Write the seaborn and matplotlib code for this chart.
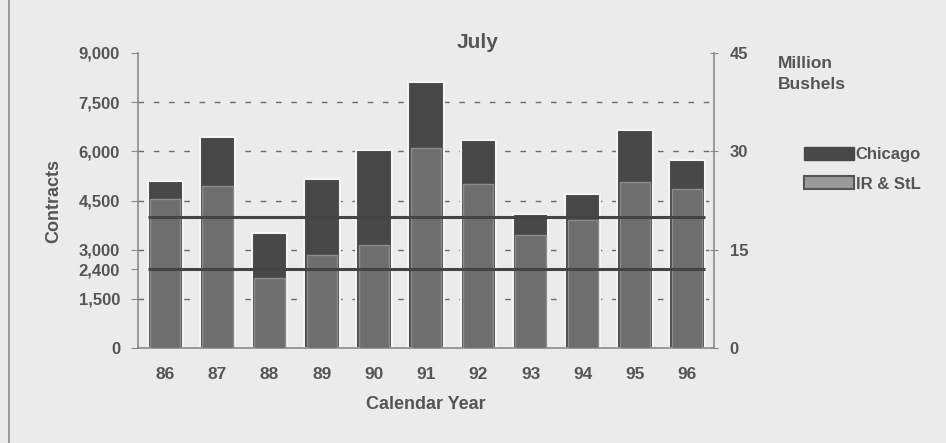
## July contracts chart, Chicago vs IR & StL

import matplotlib
matplotlib.use("Agg")
import matplotlib.pyplot as plt
from matplotlib.lines import Line2D
from matplotlib.patches import Patch
import seaborn as sns
from pandas import DataFrame

#----------------------------------------------------
# DATA
#----------------------------------------------------

years = ["86", "87", "88", "89", "90", "91", "92", "93", "94", "95", "96"]
chicago = [5100, 6450, 3500, 5150, 6050, 8100, 6350, 4100, 4700, 6650, 5750]
ir_stl = [4550, 4950, 2150, 2850, 3150, 6100, 5000, 3450, 3900, 5050, 4850]
ref_levels = [4000, 2400]
left_ticks = [0, 1500, 2400, 3000, 4500, 6000, 7500, 9000]
grid_levels = [1500, 3000, 4500, 6000, 7500]
right_ticks = [0, 15, 30, 45]

#----------------------------------------------------
# STYLE
#----------------------------------------------------

BG = "#ebebeb"
TXT = "#555555"
DARK = "#484848"
MID = "#6e6e6e"

sns.set_style("white")
plt.rcParams["font.family"] = ["Liberation Sans", "DejaVu Sans"]
plt.rcParams["font.weight"] = "bold"

#----------------------------------------------------
# PLOT
#----------------------------------------------------

def main():
    df = DataFrame({"Year": years, "Chicago": chicago, "IR & StL": ir_stl})

    fig = plt.figure(figsize=(9.46, 4.43), dpi=100, facecolor=BG)
    ax = fig.add_axes([0.146, 0.2144, 0.609, 0.666])
    ax.set_facecolor(BG)

    #dashed grid behind the bars
    for lv in grid_levels:
        ax.axhline(lv, color="#6a6a6a", lw=1.0, ls=(0, (4, 7)), zorder=0)

    sns.barplot(data=df, x="Year", y="Chicago", color=DARK, width=0.68,
                saturation=1, edgecolor="#f4f4f4", linewidth=1.5, ax=ax, zorder=2)
    sns.barplot(data=df, x="Year", y="IR & StL", color=MID, width=0.58,
                saturation=1, edgecolor="#8c8c8c", linewidth=1.0, ax=ax, zorder=3)

    #reference lines from first to last bar
    for lv in ref_levels:
        ax.hlines(lv, -0.34, len(years) - 1 + 0.34, color="#444444", lw=2.2, zorder=4)

    ax.set_xlim(-0.52, len(years) - 0.48)
    ax.set_ylim(0, 9000)
    ax.set_yticks(left_ticks)
    ax.set_yticklabels([f"{v:,}" for v in left_ticks])
    ax.set_xticks(range(len(years)))
    ax.set_xticklabels(years)
    ax.set_xticks([i + 0.5 for i in range(len(years) - 1)], minor=True)
    ax.tick_params(axis="x", which="major", length=0, pad=14, labelsize=12.5, labelcolor=TXT)
    ax.tick_params(axis="x", which="minor", length=8, direction="inout", color="#777777")
    ax.tick_params(axis="y", length=5, direction="out", color="#888888", labelsize=12,
                   labelcolor=TXT, pad=8, left=True)
    ax.set_xlabel("Calendar Year", color=TXT, fontsize=13, fontweight="bold", labelpad=10)
    ax.set_ylabel("Contracts", color=TXT, fontsize=13, fontweight="bold", labelpad=12)

    for side in ["left", "bottom"]:
        ax.spines[side].set_visible(True)
        ax.spines[side].set_color("#8a8a8a")
        ax.spines[side].set_linewidth(1.2)
    ax.spines["top"].set_visible(False)
    ax.spines["right"].set_visible(False)

    #right axis in million bushels
    ax2 = ax.twinx()
    ax2.set_ylim(0, 45)
    ax2.set_yticks(right_ticks)
    ax2.tick_params(axis="y", length=6, direction="inout", color="#888888", labelsize=12,
                    labelcolor=TXT, pad=8, right=True)
    ax2.spines["right"].set_visible(True)
    ax2.spines["right"].set_color("#8a8a8a")
    ax2.spines["right"].set_linewidth(1.2)
    for side in ["left", "top", "bottom"]:
        ax2.spines[side].set_visible(False)

    fig.text(0.505, 0.905, "July", ha="center", va="center", color=TXT,
             fontsize=15, fontweight="bold")
    fig.text(0.822, 0.833, "Million\nBushels", ha="left", va="center", color=TXT,
             fontsize=12.5, fontweight="bold", linespacing=1.45)

    handles = [Patch(facecolor=DARK, edgecolor=DARK),
               Patch(facecolor="#9a9a9a", edgecolor="#555555", linewidth=1.5)]
    fig.legend(handles, ["Chicago", "IR & StL"], loc="upper left",
               bbox_to_anchor=(0.850, 0.668), frameon=False, fontsize=12,
               handlelength=3.0, handleheight=0.8, handletextpad=0.1,
               labelspacing=0.85, labelcolor=TXT, borderaxespad=0, borderpad=0)

    #page border on the left
    fig.add_artist(Line2D([0.009, 0.009], [0.0, 1.0], color="#8a8a8a", lw=1.2))

    fig.savefig("out.png", dpi=100, facecolor=BG)


if __name__ == "__main__":
    main()
